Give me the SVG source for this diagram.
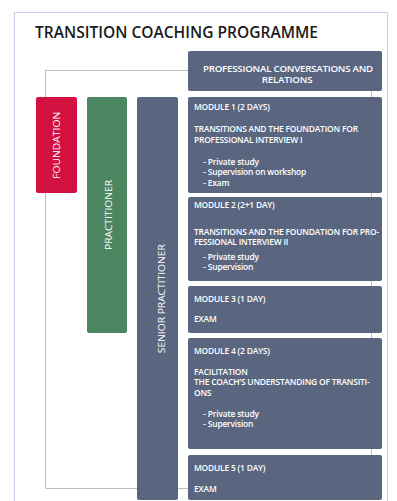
<svg xmlns="http://www.w3.org/2000/svg" width="397" height="501" viewBox="0 0 397 501">
  <style>
    .frame { fill: none; stroke: #c9cdea; stroke-width: 1; }
    .title { font-family: "Open Sans", "Liberation Sans", sans-serif; font-size: 15.5px; font-weight: 600; fill: #1b1b1b; }
    .box { stroke: none; }
    .slate { fill: #5a6680; }
    .red { fill: #d31140; }
    .green { fill: #4b8660; }
    .t { font-family: "Open Sans", "Liberation Sans", sans-serif; font-size: 8.45px; font-weight: 600; letter-spacing: -0.2px; fill: #ffffff; }
    .v { font-family: "Open Sans", "Liberation Sans", sans-serif; font-size: 9.6px; font-weight: 500; fill: #ffffff; text-anchor: middle; }
    .link { fill: none; stroke: #bdbdbd; stroke-width: 1; }
  </style>

  <rect x="0" y="0" width="397" height="501" fill="#ffffff"/>
  <path class="frame" d="M14.5 510 V12.5 H387.5 V510"/>

  <text class="title" x="35" y="38" textLength="283" lengthAdjust="spacingAndGlyphs">TRANSITION COACHING PROGRAMME</text>

  <!-- connectors -->
  <g id="connectors">
    <path class="link" d="M188 70.5 H45.5 V488.5 H188"/>
    <path class="link" d="M371.5 91 V455"/>
  </g>

  <!-- level columns -->
  <g id="foundation">
    <rect class="box red" x="36" y="97" width="41" height="96" rx="2"/>
    <text class="v" transform="translate(60.2 145.3) rotate(-90)" textLength="67" lengthAdjust="spacingAndGlyphs">FOUNDATION</text>
  </g>
  <g id="practitioner">
    <rect class="box green" x="87" y="97" width="40" height="236" rx="2"/>
    <text class="v" transform="translate(111.5 215) rotate(-90)" textLength="70" lengthAdjust="spacingAndGlyphs">PRACTITIONER</text>
  </g>
  <g id="senior-practitioner">
    <rect class="box slate" x="137" y="97" width="41" height="403" rx="2"/>
    <text class="v" transform="translate(165.2 298.7) rotate(-90)" textLength="109" lengthAdjust="spacingAndGlyphs">SENIOR PRACTITIONER</text>
  </g>

  <!-- programme blocks -->
  <g id="professional-conversations">
    <rect class="box slate" x="188" y="51" width="194" height="40" rx="2"/>
    <text class="t" x="203" y="71.5" textLength="170" lengthAdjust="spacingAndGlyphs">PROFESSIONAL CONVERSATIONS AND</text>
    <text class="t" x="261.7" y="82.5" textLength="50.7" lengthAdjust="spacingAndGlyphs">RELATIONS</text>
  </g>

  <g id="module-1">
    <rect class="box slate" x="188" y="97" width="194" height="96" rx="2"/>
    <text class="t" x="194" y="110">MODULE 1 (2 DAYS)</text>
    <text class="t" x="194" y="132">TRANSITIONS AND THE FOUNDATION FOR</text>
    <text class="t" x="194" y="142.5">PROFESSIONAL INTERVIEW I</text>
    <text class="t" x="203.3" y="165">- Private study</text>
    <text class="t" x="203.3" y="175.3">- Supervision on workshop</text>
    <text class="t" x="203.3" y="185.6">- Exam</text>
  </g>

  <g id="module-2">
    <rect class="box slate" x="188" y="197" width="194" height="84" rx="2"/>
    <text class="t" x="194" y="208">MODULE 2 (2+1 DAY)</text>
    <text class="t" x="194" y="234.5">TRANSITIONS AND THE FOUNDATION FOR PRO-</text>
    <text class="t" x="194" y="245">FESSIONAL INTERVIEW II</text>
    <text class="t" x="203.3" y="260">- Private study</text>
    <text class="t" x="203.3" y="270.3">- Supervision</text>
  </g>

  <g id="module-3">
    <rect class="box slate" x="188" y="286" width="194" height="47" rx="2"/>
    <text class="t" x="194" y="301.5">MODULE 3 (1 DAY)</text>
    <text class="t" x="194" y="322">EXAM</text>
  </g>

  <g id="module-4">
    <rect class="box slate" x="188" y="338" width="194" height="111" rx="2"/>
    <text class="t" x="194" y="354">MODULE 4 (2 DAYS)</text>
    <text class="t" x="194" y="375">FACILITATION</text>
    <text class="t" x="194" y="385.3">THE COACH’S UNDERSTANDING OF TRANSITI-</text>
    <text class="t" x="194" y="395.6">ONS</text>
    <text class="t" x="203.3" y="416.5">- Private study</text>
    <text class="t" x="203.3" y="427">- Supervision</text>
  </g>

  <g id="module-5">
    <rect class="box slate" x="188" y="455" width="194" height="45" rx="2"/>
    <text class="t" x="194" y="470.5">MODULE 5 (1 DAY)</text>
    <text class="t" x="194" y="491.5">EXAM</text>
  </g>
</svg>
